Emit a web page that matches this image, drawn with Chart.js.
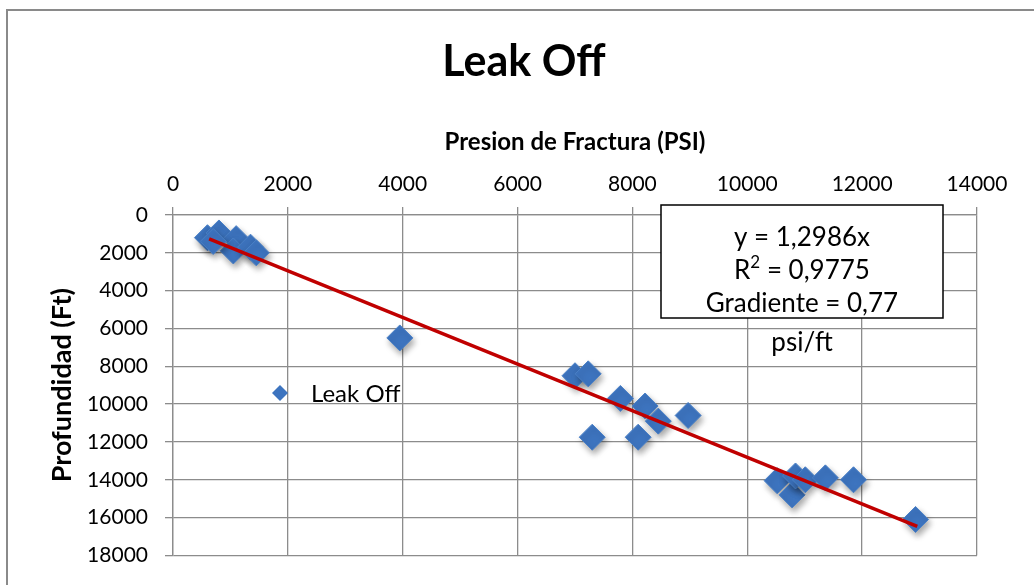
<!DOCTYPE html>
<html>
<head>
<meta charset="utf-8">
<script src="https://cdn.jsdelivr.net/npm/chart.js@4.4.1/dist/chart.umd.min.js"></script>
<style>
    html, body { margin: 0; padding: 0; background: #fff; }
    #wrap { position: relative; width: 1034px; height: 585px; }
</style>
</head>
<body>
<div id="wrap"><canvas id="leak-chart" width="1034" height="585"></canvas></div>
<script>
    'use strict';

    // Leak off points (pressure in psi, depth in ft)
    var presion = [600, 800, 1100, 1050, 1350, 1450, 700, 3950,
                   7000, 7230, 7790, 8220, 8450, 8970, 7300, 8100,
                   10520, 10780, 10840, 11010, 11360, 11850, 12930];
    var profundidad = [1200, 950, 1250, 1900, 1700, 2000, 1400, 6500,
                       8500, 8400, 9700, 10100, 10900, 10600, 11750, 11750,
                       14050, 14800, 13800, 14000, 13900, 14000, 16100];

    // trend line end points as drawn
    var trendX = [630, 12960];
    var trendY = [1260, 16460];

    var xTicks = [0, 2000, 4000, 6000, 8000, 10000, 12000, 14000];
    var yTicks = [0, 2000, 4000, 6000, 8000, 10000, 12000, 14000, 16000, 18000];

    var chartTitle = 'Leak Off';
    var eqLine = 'y = 1,2986x';
    var r2Value = ' = 0,9775';
    var gradLines = ['Gradiente = 0,77', 'psi/ft'];

    var FONT = 'Lato, "Open Sans", sans-serif';
    var GRID = '#8c8c8c';
    var DIAMOND = '#3d74bf';

    function toPoints(xs, ys) {
        return xs.map(function(x, i) { return { x: x, y: ys[i] }; });
    }

    // drop shadow under the diamonds
    var shadowPlugin = {
        id: 'shadow',
        beforeDatasetDraw: function(chart, args) {
            if (args.index !== 1) return;
            var ctx = chart.ctx;
            ctx.save();
            ctx.shadowColor = 'rgba(0,0,0,0.35)';
            ctx.shadowBlur = 6;
            ctx.shadowOffsetX = 2;
            ctx.shadowOffsetY = 4;
        },
        afterDatasetDraw: function(chart, args) {
            if (args.index !== 1) return;
            chart.ctx.restore();
        }
    };

    // frame, title, legend and the equation box
    var extrasPlugin = {
        id: 'extras',
        beforeDraw: function(chart) {
            var ctx = chart.ctx;
            ctx.save();
            ctx.strokeStyle = '#8a8a8a';
            ctx.lineWidth = 2;
            ctx.beginPath();
            ctx.moveTo(7, 600);
            ctx.lineTo(7, 10);
            ctx.lineTo(1040, 10);
            ctx.stroke();

            ctx.fillStyle = '#000';
            ctx.font = 'bold 43px ' + FONT;
            ctx.textAlign = 'center';
            ctx.textBaseline = 'middle';
            ctx.fillText(chartTitle, 524, 62);
            ctx.restore();
        },
        afterDraw: function(chart) {
            var ctx = chart.ctx;
            ctx.save();

            // legend
            var lx = 280, ly = 393, r = 8;
            ctx.fillStyle = DIAMOND;
            ctx.beginPath();
            ctx.moveTo(lx, ly - r);
            ctx.lineTo(lx + r, ly);
            ctx.lineTo(lx, ly + r);
            ctx.lineTo(lx - r, ly);
            ctx.closePath();
            ctx.fill();
            ctx.fillStyle = '#000';
            ctx.font = '24px ' + FONT;
            ctx.textAlign = 'left';
            ctx.textBaseline = 'middle';
            ctx.fillText(chart.data.datasets[1].label, 311, ly + 1);

            // equation box
            ctx.fillStyle = '#fff';
            ctx.fillRect(661, 205, 282, 113);
            ctx.strokeStyle = '#000';
            ctx.lineWidth = 1.5;
            ctx.strokeRect(661, 205, 282, 113);
            ctx.fillStyle = '#000';
            ctx.font = '26px ' + FONT;
            ctx.textAlign = 'center';
            ctx.fillText(eqLine, 802, 238);

            // R squared with a raised 2
            var wR = ctx.measureText('R').width;
            var wV = ctx.measureText(r2Value).width;
            ctx.font = '17px ' + FONT;
            var w2 = ctx.measureText('2').width;
            var x0 = 802 - (wR + w2 + wV) / 2;
            ctx.textAlign = 'left';
            ctx.fillText('2', x0 + wR, 263);
            ctx.font = '26px ' + FONT;
            ctx.fillText('R', x0, 271);
            ctx.fillText(r2Value, x0 + wR + w2, 271);

            ctx.textAlign = 'center';
            ctx.fillText(gradLines[0], 802, 304);
            ctx.fillText(gradLines[1], 802, 343);
            ctx.restore();
        }
    };

    new Chart(document.getElementById('leak-chart'), {
        type: 'scatter',
        data: {
            datasets: [
                {
                    type: 'line',
                    label: 'Tendencia',
                    data: toPoints(trendX, trendY),
                    borderColor: '#c00000',
                    borderWidth: 3.5,
                    pointRadius: 0,
                    fill: false,
                    order: 0
                },
                {
                    label: 'Leak Off',
                    data: toPoints(presion, profundidad),
                    pointStyle: 'rectRot',
                    pointRadius: 13,
                    backgroundColor: DIAMOND,
                    borderColor: '#4a80c6',
                    borderWidth: 1,
                    order: 1
                }
            ]
        },
        options: {
            responsive: false,
            animation: false,
            layout: { padding: { left: 0, right: 57, top: 85, bottom: 27 } },
            plugins: {
                legend: { display: false },
                tooltip: { enabled: false },
                title: { display: false }
            },
            scales: {
                x: {
                    type: 'linear',
                    position: 'top',
                    min: 0,
                    max: 14000,
                    afterBuildTicks: function(scale) {
                        scale.ticks = xTicks.map(function(v) { return { value: v }; });
                    },
                    afterFit: function(scale) { scale.height = 130; },
                    ticks: {
                        color: '#000',
                        font: { family: FONT, size: 21 },
                        padding: 10,
                        maxRotation: 0,
                        callback: function(v) { return String(v); }
                    },
                    grid: { color: GRID, lineWidth: 1.3, tickLength: 8 },
                    border: { color: GRID, width: 1.3 },
                    title: {
                        display: true,
                        text: 'Presion de Fractura (PSI)',
                        color: '#000',
                        font: { family: FONT, size: 24, weight: 'bold' },
                        padding: { top: 43, bottom: 0 }
                    }
                },
                y: {
                    type: 'linear',
                    reverse: true,
                    min: 0,
                    max: 18000,
                    afterBuildTicks: function(scale) {
                        scale.ticks = yTicks.map(function(v) { return { value: v }; });
                    },
                    afterFit: function(scale) { scale.width = 173; },
                    ticks: {
                        color: '#000',
                        font: { family: FONT, size: 21 },
                        padding: 17,
                        callback: function(v) { return String(v); }
                    },
                    grid: { color: GRID, lineWidth: 1.3, tickLength: 8 },
                    border: { color: GRID, width: 1.3 },
                    title: {
                        display: true,
                        text: 'Profundidad (Ft)',
                        color: '#000',
                        font: { family: FONT, size: 27, weight: 'bold' },
                        padding: { top: 46, bottom: 0 }
                    }
                }
            }
        },
        plugins: [shadowPlugin, extrasPlugin]
    });
</script>
</body>
</html>
